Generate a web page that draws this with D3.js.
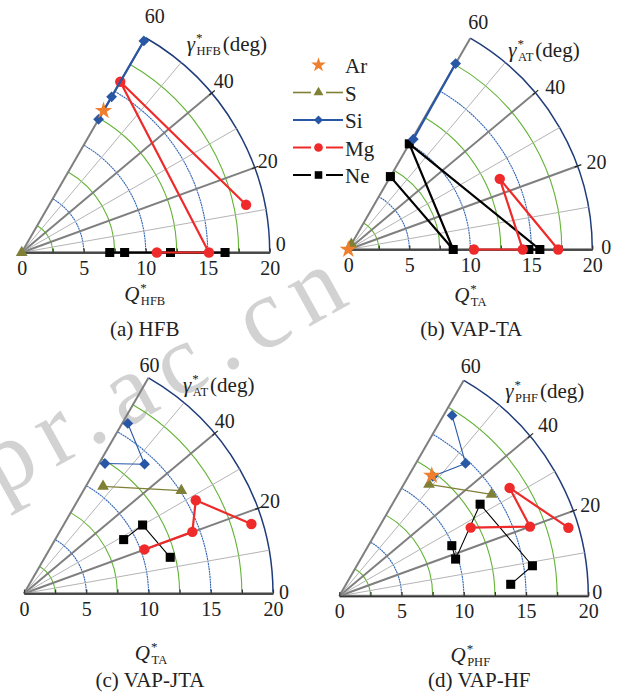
<!DOCTYPE html>
<html>
<head>
<meta charset="utf-8">
<script src="https://cdn.jsdelivr.net/npm/d3@7"></script>
<style>
  body { margin: 0; background: #fff; }
  svg { display: block; font-family: "Liberation Serif", "Times New Roman", serif; }
</style>
</head>
<body>
<div id="chart"></div>
<script>
// values are [Q*, gamma* in deg]
const radialTicks = [0, 2.5, 5, 7.5, 10, 12.5, 15, 17.5, 20];
const angleGrid = [10, 20, 30, 40, 50, 60];
const angleLabels = [0, 20, 40, 60];
const seriesNames = ["Ar", "S", "Si", "Mg", "Ne"];
const seriesColors = ["#ef7f2f", "#7f7f36", "#2857a6", "#ee2a2a", "#000000"];

// (a) HFB
const hfbAr = [[13.2, 60]];
const hfbS = [[0, 0]];
const hfbSi = [[12.4, 60], [14.5, 60], [19.7, 60]];
const hfbMg = [[18.5, 12], [15.9, 60], [15.1, 0], [10.9, 0]];
const hfbNe = [[7.1, 0], [8.3, 0], [12.0, 0], [16.4, 0]];

// (b) VAP-TA
const taAr = [[0, 0]];
const taS = [[0.5, 60]];
const taSi = [[10.5, 59.5], [17.6, 60]];
const taMg = [[10.3, 0], [14.3, 0], [13.7, 25], [17.2, 0]];
const taNe = [[6.9, 60], [8.6, 0], [10.0, 60], [15.7, 0], [14.8, 0]];

// (c) VAP-JTA
const jtaAr = [];
const jtaS = [[10.7, 53.6], [15.1, 33.2]];
const jtaSi = [[16.0, 58.6], [14.2, 47.0], [12.3, 58.1]];
const jtaMg = [[19.1, 17.0], [15.7, 28.5], [14.4, 20.1], [10.3, 20.1]];
const jtaNe = [[9.1, 28.4], [11.0, 30.0], [12.1, 13.9]];

// (d) VAP-HF
const hfAr = [[12.2, 52.5]];
const hfS = [[11.5, 51.2], [14.7, 33.7]];
const hfSi = [[17.1, 58.0], [14.7, 46.4], [12.2, 52.0]];
const hfMg = [[19.2, 16.6], [16.2, 32.4], [16.3, 20.0], [11.9, 27.5]];
const hfNe = [[9.9, 24.1], [9.8, 17.6], [13.5, 33.1], [15.7, 8.9], [13.8, 3.9]];

const width = 621;
const height = 697;

// layout: origin, radius, label offsets (angle labels keyed by degree)
const panels = [
  { ox: 21.7, oy: 252.5, R: 248, data: [hfbAr, hfbS, hfbSi, hfbMg, hfbNe], thin: false,
    qSub: "HFB", gSub: "HFB", caption: "(a) HFB", q: [123, 48], c: [123, 83], gam: [165, -202],
    off: { 0: [6, -2], 20: [3, 0], 40: [2, -5], 60: [9, -15] } },
  { ox: 348.3, oy: 249.5, R: 244, data: [taAr, taS, taSi, taMg, taNe], thin: false,
    qSub: "TA", gSub: "AT", caption: "(b) VAP-TA", q: [122, 52], c: [123, 86], gam: [160, -193],
    off: { 0: [9, 4], 20: [9, 3], 40: [10, 1], 60: [8, -9] } },
  { ox: 24, oy: 593.5, R: 249, data: [jtaAr, jtaS, jtaSi, jtaMg, jtaNe], thin: true,
    qSub: "TA", gSub: "AT", caption: "(c) VAP-JTA", q: [127, 66], c: [126, 93], gam: [159, -202],
    off: { 0: [6, 5], 20: [2, 0], 40: [0, -5], 60: [1, -6] } },
  { ox: 339.3, oy: 596, R: 249, data: [hfAr, hfS, hfSi, hfMg, hfNe], thin: true,
    qSub: "PHF", gSub: "PHF", caption: "(d) VAP-HF", q: [131, 66], c: [140, 91], gam: [166, -198],
    off: { 0: [4, 3], 20: [7, 1], 40: [8, -4], 60: [7, -7] } },
];

const svg = d3.select("#chart").append("svg")
  .attr("width", width)
  .attr("height", height)
  .attr("viewBox", `0 0 ${width} ${height}`);

svg.append("rect").attr("width", width).attr("height", height).attr("fill", "#fff");

// watermark
svg.append("text")
  .attr("transform", "translate(0,498) rotate(-29)")
  .attr("font-size", 100)
  .attr("letter-spacing", 13)
  .attr("fill", "#d2d2d2")
  .text("pr.ac.cn");

function symbolFor(name, big) {
  const s = big ? 1 : 0.7;
  if (name === "Ar") return d3.symbol().type(d3.symbolStar).size(95 * s)();
  if (name === "S") return d3.symbol().type(d3.symbolTriangle).size(60 * s)();
  if (name === "Si") return d3.symbol().type(d3.symbolSquare).size(58 * s)();
  if (name === "Mg") return d3.symbol().type(d3.symbolCircle).size(85 * s)();
  return d3.symbol().type(d3.symbolSquare).size(82 * s)();
}

function lineWidth(name, thin) {
  if (name === "S") return 1.2;
  if (name === "Mg") return 2.2;
  return thin ? 1.1 : 2.2;
}

function addLabel(sel, x, y, main, sub, extra, anchor) {
  const t = sel.append("text")
    .attr("x", x)
    .attr("y", y)
    .attr("text-anchor", anchor)
    .attr("fill", "#222")
    .attr("font-size", 21);
  t.append("tspan").attr("font-style", "italic").text(main);
  t.append("tspan").attr("font-size", 13).attr("dy", -9).attr("dx", 1).text("*");
  t.append("tspan").attr("font-size", 12.5).attr("dy", 13).attr("dx", -6).text(sub);
  if (extra) {
    t.append("tspan").attr("dy", -4).attr("dx", 2).text(extra);
  }
}

function drawPanel(p) {
  const g = svg.append("g").attr("transform", `translate(${p.ox},${p.oy})`);
  const r = d3.scaleLinear().domain([0, 20]).range([0, p.R]);
  const a = d3.scaleLinear().domain([0, 60]).range([Math.PI / 2, Math.PI / 6]);
  const pt = (d) => d3.pointRadial(a(d[1]), r(d[0]));

  // arcs
  radialTicks.filter((v) => v > 0).forEach((v) => {
    const path = d3.path();
    path.moveTo(r(v), 0);
    path.arc(0, 0, r(v), 0, -Math.PI / 3, true);
    const outer = v === 20;
    const green = (v / 2.5) % 2 === 1;
    g.append("path")
      .attr("d", path.toString())
      .attr("fill", "none")
      .attr("stroke", outer ? "#1f3c7a" : green ? "#62b334" : "#2f66b8")
      .attr("stroke-width", outer ? 1.5 : 1.1)
      .attr("stroke-dasharray", !outer && !green ? "2 0.6" : null);
  });

  // radial lines
  angleGrid.forEach((deg) => {
    const thick = deg % 20 === 0;
    const [x, y] = pt([20, deg]);
    g.append("line")
      .attr("x1", 0).attr("y1", 0)
      .attr("x2", x).attr("y2", y)
      .attr("stroke", thick ? "#7f7f7f" : "#b4b4b4")
      .attr("stroke-width", thick ? 2 : 1);
  });

  [20, 40].forEach((deg) => {
    const [x1, y1] = d3.pointRadial(a(deg), p.R - 3);
    const [x2, y2] = d3.pointRadial(a(deg), p.R + 4);
    g.append("line")
      .attr("x1", x1).attr("y1", y1).attr("x2", x2).attr("y2", y2)
      .attr("stroke", "#222").attr("stroke-width", 1.2);
  });

  g.append("line")
    .attr("x1", 0).attr("y1", 0).attr("x2", r(20)).attr("y2", 0)
    .attr("stroke", "#7f7f7f").attr("stroke-width", 2.5);

  const axis = g.append("g")
    .call(d3.axisBottom(r)
      .tickValues(radialTicks)
      .tickSizeInner(-4)
      .tickSizeOuter(0)
      .tickPadding(8)
      .tickFormat((d) => (d % 5 === 0 ? d : "")));
  axis.attr("font-family", null).attr("font-size", 20).attr("color", "#222");
  axis.select(".domain").attr("stroke", "#333").attr("stroke-width", 1.3);
  axis.selectAll(".tick line").attr("stroke", "#333").attr("stroke-width", 1.2);

  // angle labels
  angleLabels.forEach((deg) => {
    const [x, y] = pt([20, deg]);
    g.append("text")
      .attr("x", x + p.off[deg][0])
      .attr("y", y + p.off[deg][1])
      .attr("text-anchor", deg === 60 ? "middle" : "start")
      .attr("font-size", 20)
      .attr("fill", "#222")
      .text(deg);
  });

  addLabel(g, p.gam[0], p.gam[1], "γ", p.gSub, "(deg)", "start");
  addLabel(g, p.q[0], p.q[1], "Q", p.qSub, null, "middle");

  g.append("text")
    .attr("x", p.c[0])
    .attr("y", p.c[1])
    .attr("text-anchor", "middle")
    .attr("font-size", 21)
    .attr("fill", "#222")
    .text(p.caption);

  // series: draw order Ne, Mg, Si, S, Ar
  const line = d3.line().x((d) => pt(d)[0]).y((d) => pt(d)[1]);
  [4, 3, 2, 1, 0].forEach((i) => {
    const name = seriesNames[i];
    const values = p.data[i];
    if (!values.length) return;
    if (name !== "Ar" && values.length > 1) {
      g.append("path")
        .datum(values)
        .attr("fill", "none")
        .attr("stroke", seriesColors[i])
        .attr("stroke-width", lineWidth(name, p.thin))
        .attr("stroke-linejoin", "round")
        .attr("d", line);
    }
    g.selectAll(null)
      .data(values)
      .enter()
      .append("path")
      .attr("d", symbolFor(name, true))
      .attr("transform", (d) => `translate(${pt(d)[0]},${pt(d)[1]})${name === "Si" ? " rotate(45)" : ""}`)
      .attr("fill", seriesColors[i]);
  });
}

panels.forEach(drawPanel);

// legend
const legend = svg.append("g").attr("transform", "translate(293,65)");
seriesNames.forEach((name, i) => {
  const row = legend.append("g").attr("transform", `translate(0,${i * 27.5})`);
  if (name !== "Ar") {
    const segs = name === "Si" ? [[0, 50]] : [[0, 18], [33, 50]];
    segs.forEach(([x1, x2]) => {
      row.append("line")
        .attr("x1", x1).attr("x2", x2)
        .attr("stroke", seriesColors[i])
        .attr("stroke-width", name === "S" ? 1.6 : 2);
    });
  }
  row.append("path")
    .attr("d", symbolFor(name, false))
    .attr("transform", `translate(25.5,0)${name === "Si" ? " rotate(45)" : ""}`)
    .attr("fill", seriesColors[i]);
  row.append("text")
    .attr("x", 52)
    .attr("y", 8)
    .attr("font-size", 21)
    .attr("fill", "#222")
    .text(name);
});
</script>
</body>
</html>
